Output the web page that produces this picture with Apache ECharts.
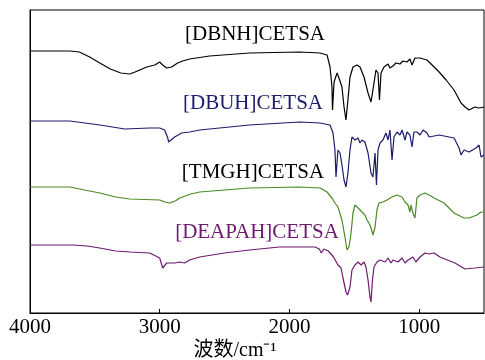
<!DOCTYPE html>
<html>
<head>
<meta charset="utf-8">
<script src="https://cdn.jsdelivr.net/npm/echarts@6/dist/echarts.min.js"></script>
<style>
  html, body { margin: 0; padding: 0; background: #fff; }
  #ir { width: 485px; height: 360px; }
</style>
</head>
<body>
<div id="ir"></div>
<script>
// 波数刻度
var xTicks = [4000, 3000, 2000, 1000];

// 各样品红外谱图 [波数, 强度(a.u., 已叠加偏移)]
var dbnh = [
  [4000, 262], [3692, 262], [3620, 261], [3540, 256], [3462, 250], [3380, 244], [3300, 240],
  [3231, 239], [3190, 241], [3154, 243], [3100, 246], [3038, 248], [3000, 251], [2977, 248],
  [2946, 245], [2908, 246], [2862, 250], [2823, 252], [2769, 254], [2615, 257], [2308, 260],
  [1923, 261], [1764, 260], [1710, 258], [1687, 246], [1672, 226], [1668, 203], [1656, 231],
  [1633, 240], [1618, 235], [1595, 226], [1579, 206], [1564, 193], [1549, 213], [1533, 236],
  [1510, 246], [1479, 248], [1456, 246], [1425, 236], [1394, 220], [1371, 211], [1348, 230],
  [1333, 243], [1317, 240], [1306, 213], [1294, 240], [1271, 246], [1240, 249], [1225, 245],
  [1202, 247], [1179, 250], [1148, 249], [1125, 252], [1094, 251], [1071, 254], [1055, 248],
  [1032, 255], [993, 255], [940, 253], [900, 248], [846, 241], [792, 233], [731, 223],
  [677, 210], [646, 206], [615, 203], [570, 206], [538, 205], [500, 206]
];
var dbuh = [
  [4000, 192], [3692, 192], [3462, 188], [3269, 184], [3077, 185], [3000, 185], [2962, 183],
  [2938, 175], [2931, 171], [2885, 176], [2831, 180], [2769, 181], [2692, 183], [2308, 188],
  [1923, 191], [1764, 190], [1687, 188], [1664, 180], [1649, 163], [1641, 136], [1626, 163],
  [1610, 160], [1595, 148], [1579, 133], [1564, 126], [1549, 140], [1533, 163], [1518, 176],
  [1495, 173], [1471, 175], [1456, 170], [1441, 173], [1418, 171], [1394, 160], [1371, 140],
  [1356, 136], [1340, 160], [1329, 128], [1317, 163], [1302, 170], [1279, 173], [1256, 180],
  [1240, 173], [1225, 183], [1209, 153], [1194, 176], [1171, 181], [1148, 178], [1132, 183],
  [1109, 173], [1094, 181], [1071, 178], [1055, 166], [1040, 181], [1017, 181], [993, 178],
  [970, 183], [940, 180], [923, 176], [846, 178], [731, 175], [692, 165], [677, 158],
  [654, 163], [615, 161], [562, 165], [538, 168], [523, 156], [500, 158]
];
var tmgh = [
  [4000, 126], [3692, 126], [3580, 123], [3462, 120], [3340, 116], [3231, 114], [3000, 113],
  [2960, 111], [2923, 110], [2880, 112], [2846, 115], [2760, 119], [2692, 121], [2308, 125],
  [1923, 126], [1764, 125], [1710, 121], [1672, 115], [1649, 110], [1626, 106], [1595, 93],
  [1572, 76], [1556, 63], [1541, 66], [1525, 80], [1510, 100], [1495, 108], [1471, 105],
  [1441, 101], [1418, 98], [1402, 93], [1387, 90], [1371, 85], [1356, 78], [1340, 86],
  [1325, 103], [1310, 110], [1279, 111], [1248, 113], [1210, 116], [1171, 118], [1132, 116],
  [1109, 111], [1086, 108], [1071, 101], [1063, 108], [1048, 100], [1032, 95], [1017, 115],
  [993, 118], [955, 120], [923, 118], [885, 115], [808, 110], [731, 100], [654, 95],
  [615, 95], [554, 98], [523, 101], [500, 101]
];
var deapah = [
  [4000, 68], [3669, 68], [3560, 67], [3462, 65], [3340, 62], [3231, 61], [3077, 60], [3000, 55],
  [2977, 45], [2946, 50], [2885, 50], [2846, 51], [2808, 50], [2769, 53], [2692, 56], [2500, 60],
  [2308, 63], [2077, 66], [1923, 66], [1803, 66], [1770, 64], [1754, 60], [1735, 64], [1700, 62],
  [1660, 56], [1626, 48], [1602, 45], [1587, 35], [1564, 21], [1552, 18], [1533, 26], [1518, 43],
  [1495, 48], [1471, 51], [1448, 48], [1425, 51], [1410, 46], [1394, 33], [1379, 16], [1371, 11],
  [1360, 33], [1348, 46], [1325, 51], [1302, 53], [1263, 51], [1240, 55], [1217, 50], [1202, 53],
  [1163, 51], [1132, 55], [1109, 50], [1086, 53], [1048, 56], [1025, 51], [993, 56], [955, 60],
  [923, 59], [885, 60], [840, 56], [724, 50], [647, 44], [570, 45], [500, 46]
];

var serif = 'Liberation Serif, DejaVu Serif, serif';

function spec(name, data, color) {
  return {
    name: name,
    type: 'line',
    data: data,
    showSymbol: false,
    lineStyle: { color: color, width: 1.2 },
    animation: false
  };
}

function tag(text, x, y, color) {
  return {
    type: 'text',
    x: x, y: y,
    style: { text: text, fill: color, font: '21px ' + serif, align: 'center', verticalAlign: 'middle' }
  };
}

var option = {
  animation: false,
  grid: { left: 30, right: 1, top: 10, bottom: 47, show: true, borderColor: '#000', borderWidth: 1 },
  xAxis: {
    type: 'value',
    min: 500, max: 4000,
    inverse: true,
    axisLine: { lineStyle: { color: '#000', width: 1 } },
    axisTick: { inside: true, length: 4, customValues: xTicks, lineStyle: { color: '#000' } },
    axisLabel: {
      customValues: xTicks, color: '#000', fontSize: 21, fontFamily: serif, margin: 4,
      formatter: function (v) { return String(v); }
    },
    splitLine: { show: false }
  },
  yAxis: {
    type: 'value',
    min: 0, max: 303,
    axisLine: { show: true, lineStyle: { color: '#000' } },
    axisTick: { show: false },
    axisLabel: { show: false },
    splitLine: { show: false }
  },
  series: [
    spec('[DBNH]CETSA', dbnh, '#000000'),
    spec('[DBUH]CETSA', dbuh, '#1c1c6b'),
    spec('[TMGH]CETSA', tmgh, '#4a8a26'),
    spec('[DEAPAH]CETSA', deapah, '#6e1a70')
  ],
  graphic: [
    tag('[DBNH]CETSA', 255, 34, '#000'),
    tag('[DBUH]CETSA', 253, 103, '#1c1c6b'),
    tag('[TMGH]CETSA', 253, 172, '#000'),
    tag('[DEAPAH]CETSA', 257, 232, '#6e1a70'),
    {
      type: 'text', x: 235, y: 351,
      style: { text: '波数/cm⁻¹', fill: '#000', font: '20px Liberation Serif, Noto Sans CJK SC, serif', align: 'center', verticalAlign: 'middle' }
    }
  ]
};

var chart = echarts.init(document.getElementById('ir'));
chart.setOption(option);
</script>
</body>
</html>
